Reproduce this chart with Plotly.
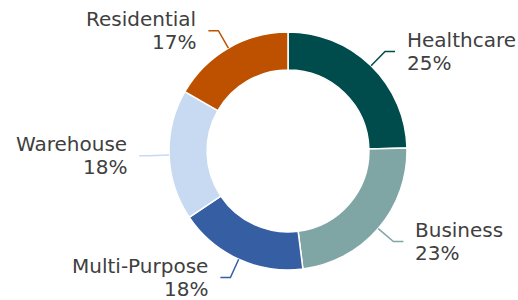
import math
import plotly.graph_objects as go

categories = ["Healthcare", "Business", "Multi-Purpose", "Warehouse", "Residential"]
values = [24.6, 23.4, 17.6, 17.7, 16.7]
colors = ["#004b4b", "#7fa6a5", "#355ea3", "#c7daf2", "#bd5100"]

W, H = 518, 300
cx, cy, R = 288, 151, 119  # pixel centre (from top) and radius
HOLE = 0.68
FONT = "DejaVu Sans"
TXT = "#404040"

fig = go.Figure(go.Pie(
    labels=categories, values=values, sort=False, direction="clockwise",
    rotation=0, hole=HOLE, textinfo="none", hoverinfo="label+percent",
    marker=dict(colors=colors, line=dict(color="white", width=1.5)),
    domain=dict(x=[(cx - R) / W, (cx + R) / W],
                y=[(H - cy - R) / H, (H - cy + R) / H]),
    showlegend=False,
))

def px2paper(x, y):
    return x / W, 1 - y / H

total = sum(values)
cum = 0
shapes, annos = [], []
for name, v, col in zip(categories, values, colors):
    mid = (cum + v / 2) / total * 2 * math.pi
    cum += v
    s, c = math.sin(mid), math.cos(mid)
    x0, y0 = cx + R * s, cy - R * c
    x1, y1 = cx + (R + 20) * s, cy - (R + 20) * c
    side = 1 if s >= 0 else -1
    x2 = x1 + 10 * side
    pts = [px2paper(x0, y0), px2paper(x1, y1), px2paper(x2, y1)]
    path = "M {} {} L {} {} L {} {}".format(*[v_ for p in pts for v_ in p])
    shapes.append(dict(type="path", path=path, xref="paper", yref="paper",
                       line=dict(color=col, width=1.5)))
    tx = x2 + 10 * side
    pct = "{}%".format(round(v / total * 100))
    for txt, dy in ((name, -11.5), (pct, 11.5)):
        ax, ay = px2paper(tx, y1 + dy)
        annos.append(dict(x=ax, y=ay, xref="paper", yref="paper", text=txt,
                          showarrow=False,
                          xanchor="left" if side > 0 else "right",
                          yanchor="middle",
                          font=dict(family=FONT, size=20, color=TXT)))

fig.update_layout(
    width=W, height=H, autosize=False,
    margin=dict(l=0, r=0, t=0, b=0),
    paper_bgcolor="white", plot_bgcolor="white",
    shapes=shapes, annotations=annos,
)

fig.write_html(
    "out.html",
    config={"displayModeBar": False},
    post_script="document.body.style.margin='0';document.body.style.overflow='hidden';",
)
